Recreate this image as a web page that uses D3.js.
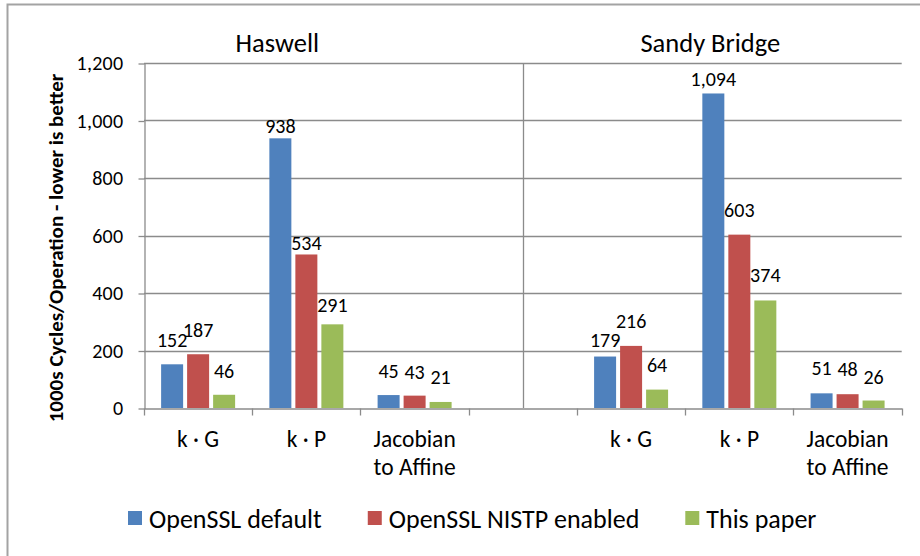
<!DOCTYPE html>
<html>
<head>
<meta charset="utf-8">
<script src="https://cdn.jsdelivr.net/npm/d3@7"></script>
<style>
  body { margin: 0; background: #fff; }
  svg { display: block; font-family: Carlito, Calibri, Lato, sans-serif; }
</style>
</head>
<body>
<div id="chart"></div>
<script>
// categories along the x axis (index 3 is the empty gap between the two CPUs)
var categories = ["k · G", "k · P", "Jacobian\nto Affine", "", "k · G", "k · P", "Jacobian\nto Affine"];
var cpuNames = ["Haswell", "Sandy Bridge"];
var seriesNames = ["OpenSSL default", "OpenSSL NISTP enabled", "This paper"];

// 1000s cycles per operation
var opensslDefault = [152, 938, 45, null, 179, 1094, 51];
var opensslNistp   = [187, 534, 43, null, 216, 603, 48];
var thisPaper      = [46, 291, 21, null, 64, 374, 26];

var yTicks = [0, 200, 400, 600, 800, 1000, 1200];

// how far each value label sits above its bar (hand placed in the original)
var labelLift = [
    [17, 5, 17, null, 10, 7, 18],
    [17, 4, 17, null, 18, 18, 18],
    [17, 12, 18, null, 18, 18, 17]
];

var seriesData = [opensslDefault, opensslNistp, thisPaper];
var colors = ["#4F81BD", "#C0504D", "#9BBB59"];

var width = 920, height = 556;
var plot = {left: 144, right: 901.7, top: 63, bottom: 408};
var gridColor = "#8b8b8b";

var svg = d3.select("#chart").append("svg")
    .attr("width", width)
    .attr("height", height);

// outer frame (only left and top edges are visible)
svg.append("path")
    .attr("d", "M7.5," + height + "V4.5H" + width)
    .attr("fill", "none")
    .attr("stroke", "#a3a3a3")
    .attr("stroke-width", 2);

var x = d3.scaleBand()
    .domain(d3.range(categories.length))
    .range([plot.left, plot.right])
    .padding(0);

var bw = x.bandwidth();
var xs = d3.scaleBand()
    .domain(d3.range(seriesNames.length))
    .range([bw / 2 - 37, bw / 2 + 37])
    .paddingInner(4 / 26)
    .paddingOuter(0);

var y = d3.scaleLinear()
    .domain([0, 1200])
    .range([plot.bottom, plot.top]);

// horizontal gridlines
svg.append("g")
    .selectAll("line")
    .data(yTicks.slice(1))
    .enter().append("line")
    .attr("x1", plot.left).attr("x2", plot.right)
    .attr("y1", function(d) { return Math.round(y(d)) + 0.5; })
    .attr("y2", function(d) { return Math.round(y(d)) + 0.5; })
    .attr("stroke", gridColor)
    .attr("stroke-width", 1.3);

// vertical separator in the gap category
var sepX = Math.round(x(3) + bw / 2) + 0.5;
svg.append("line")
    .attr("x1", sepX).attr("x2", sepX)
    .attr("y1", y(1200)).attr("y2", y(0))
    .attr("stroke", gridColor)
    .attr("stroke-width", 1.3);

// y axis
var yAxis = svg.append("g")
    .attr("transform", "translate(" + (plot.left + 0.5) + ",0.5)")
    .call(d3.axisLeft(y).tickValues(yTicks).tickFormat(d3.format(",")).tickSizeInner(6).tickSizeOuter(0).tickPadding(15));
yAxis.select(".domain").attr("stroke", gridColor).attr("stroke-width", 1.3);
yAxis.selectAll(".tick line").attr("stroke", gridColor).attr("stroke-width", 1.3);
yAxis.selectAll(".tick text")
    .attr("fill", "#000")
    .style("font-size", "20px")
    .style("letter-spacing", "0.3px")
    .style("font-family", "Carlito, Calibri, Lato, sans-serif");

// x axis
var xAxis = svg.append("g")
    .attr("transform", "translate(0," + (Math.round(plot.bottom) + 0.5) + ")")
    .call(d3.axisBottom(x).tickValues([]).tickSizeOuter(0));
xAxis.select(".domain").attr("stroke", gridColor).attr("stroke-width", 1.3);
xAxis.selectAll(".sep")
    .data(d3.range(categories.length + 1))
    .enter().append("line")
    .attr("class", "sep")
    .attr("x1", function(i) { return Math.round(plot.left + i * bw) + 0.5; })
    .attr("x2", function(i) { return Math.round(plot.left + i * bw) + 0.5; })
    .attr("y1", 0).attr("y2", 7)
    .attr("stroke", gridColor)
    .attr("stroke-width", 1.3);

// category labels
var catText = svg.append("g").selectAll("text")
    .data(categories)
    .enter().append("text")
    .attr("text-anchor", "middle")
    .attr("font-size", 23.5)
    .attr("fill", "#000")
    .attr("transform", function(d, i) { return "translate(" + (x(i) + bw / 2) + ",446.5)"; });
catText.selectAll("tspan")
    .data(function(d) { return d ? d.split("\n") : []; })
    .enter().append("tspan")
    .attr("x", 0)
    .attr("dy", function(d, i) { return i === 0 ? 0 : 28.5; })
    .text(function(d) { return d; });

// bars and value labels
seriesData.forEach(function(vals, s) {
    var g = svg.append("g");
    var pts = vals.map(function(v, i) { return {v: v, i: i}; })
        .filter(function(d) { return d.v !== null; });

    g.selectAll("rect")
        .data(pts)
        .enter().append("rect")
        .attr("x", function(d) { return x(d.i) + xs(s); })
        .attr("y", function(d) { return y(d.v); })
        .attr("width", xs.bandwidth())
        .attr("height", function(d) { return y(0) - y(d.v); })
        .attr("fill", colors[s]);

    g.selectAll("text")
        .data(pts)
        .enter().append("text")
        .attr("x", function(d) { return x(d.i) + xs(s) + xs.bandwidth() / 2; })
        .attr("y", function(d) { return y(d.v) - labelLift[s][d.i]; })
        .attr("text-anchor", "middle")
        .attr("font-size", 20)
        .attr("fill", "#000")
        .text(function(d) { return d3.format(",")(d.v); });
});

// CPU titles over each half
svg.append("g").selectAll("text")
    .data(cpuNames)
    .enter().append("text")
    .attr("x", function(d, i) { return x(i * 4 + 1) + bw / 2 - 29; })
    .attr("y", 51.5)
    .attr("text-anchor", "middle")
    .attr("font-size", 26.5)
    .attr("fill", "#000")
    .text(function(d) { return d; });

// y axis title
svg.append("text")
    .attr("transform", "translate(63,248) rotate(-90)")
    .attr("text-anchor", "middle")
    .attr("font-size", 21)
    .attr("font-weight", "bold")
    .attr("fill", "#000")
    .text("1000s Cycles/Operation - lower is better");

// legend
var legend = svg.append("g");
var lx = 128;
seriesNames.forEach(function(name, s) {
    legend.append("rect")
        .attr("x", lx).attr("y", 511)
        .attr("width", 14).attr("height", 14)
        .attr("fill", colors[s]);
    var t = legend.append("text")
        .attr("x", lx + 21)
        .attr("y", 528)
        .attr("font-size", 26)
        .attr("fill", "#000")
        .text(name);
    lx += 21 + t.node().getComputedTextLength() + 46;
});
</script>
</body>
</html>
